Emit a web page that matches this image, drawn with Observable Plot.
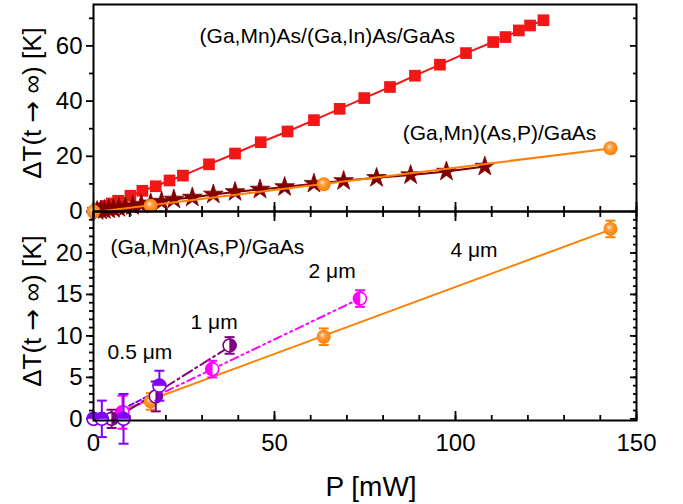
<!DOCTYPE html>
<html><head><meta charset="utf-8">
<script src="https://cdn.jsdelivr.net/npm/d3@7"></script>
<script src="https://cdn.jsdelivr.net/npm/@observablehq/plot@0.6"></script>
<style>
body{margin:0;background:#fff;}
#chart{width:683px;height:504px;position:relative;background:#fff;}
#chart svg{display:block;overflow:visible;}
</style></head><body><div id="chart"></div>
<script>
// ---------- data ----------
// top panel: (Ga,Mn)As/(Ga,In)As/GaAs  (red squares)
const sqP = [1.0, 2.2, 3.6, 5.0, 6.8, 10.2, 13.5, 17.2, 21.0, 24.7, 31.9, 39.1, 46.2, 53.6, 60.9, 68.0, 74.8, 81.9, 88.8, 95.7, 102.9, 110.4, 113.8, 117.5, 120.6, 124.3];
const sqT = [0.5, 1.2, 2.0, 2.9, 3.9, 5.7, 7.5, 9.15, 11.25, 13.0, 17.1, 21.0, 25.1, 29.0, 33.1, 37.2, 41.1, 45.1, 49.2, 53.2, 57.4, 61.4, 63.2, 65.6, 67.4, 69.3];
// top panel: stars
const stP = [1.0, 2.0, 3.0, 4.2, 5.5, 7.0, 8.8, 10.8, 13.2, 15.8, 18.8, 22.2, 27.3, 33.1, 39.1, 46.0, 52.8, 60.9, 69.1, 78.2, 87.6, 97.5, 108.1];
const stT = [0.2, 0.4, 0.6, 0.8, 1.0, 1.3, 1.6, 2.0, 2.5, 3.0, 3.6, 4.4, 5.1, 6.2, 7.1, 8.0, 8.9, 10.1, 11.1, 12.2, 13.2, 14.5, 16.3];
// 4 um (orange), shown in both panels
const p4 = [0, 15.8, 63.6, 142.8];
const t4 = [0, 2.1, 9.9, 22.9];
const e4 = [0.3, 1.0, 1.0, 1.0];
// 2 um (magenta)
const p2 = [8.0, 32.8, 73.6];
const t2 = [0.8, 6.0, 14.5];
const e2 = [2.0, 1.0, 1.0];
// 1 um (dark purple)
const p1 = [5.0, 17.2, 37.6];
const t1 = [0.0, 2.7, 8.85];
const e1 = [1.1, 1.8, 1.0];
// 0.5 um (violet)
const p05 = [0, 2.3, 8.3, 18.2];
const t05 = [0, 0, 0, 4.0];
const e05 = [0, 2.2, 3.0, 1.8];

// tick values
const xMajor = [0, 50, 100, 150];
const xMinor = d3.range(0, 151, 10);
const yTopMajor = [0, 20, 40, 60];
const yTopMinor = [10, 30, 50, 70];
const yBotMajor = [0, 5, 10, 15, 20];
const yBotMinor = d3.range(0, 25, 1);

// annotations
const annTopText = ["(Ga,Mn)As/(Ga,In)As/GaAs", "(Ga,Mn)(As,P)/GaAs"];
const annTopP = [29.3, 85.4];
const annTopT = [63.4, 28.3];
const annBotText = ["(Ga,Mn)(As,P)/GaAs", "4 μm", "2 μm", "1 μm", "0.5 μm"];
const annBotP = [4.7, 98.6, 59.4, 26.8, 3.9];
const annBotT = [20.7, 20.3, 17.8, 11.7, 8.0];

const yTitle = "ΔT(t → ∞) [K]";
const xTitle = "P [mW]";

// ---------- tables ----------
const tbl = (P, T, E) => P.map((p, i) => ({P: p, T: T[i], e: E ? E[i] : 0}));
const squares = tbl(sqP, sqT);
const stars = tbl(stP, stT);
const d4 = tbl(p4, t4, e4);
const d2 = tbl(p2, t2, e2);
const d1 = tbl(p1, t1, e1);
const d05 = tbl(p05, t05, e05);
const annTop = annTopText.map((t, i) => ({text: t, P: annTopP[i], T: annTopT[i]}));
const annBot = annBotText.map((t, i) => ({text: t, P: annBotP[i], T: annBotT[i]}));

// ---------- styles ----------
const C = {red: "#f21616", star: "#800000", orange: "#ff8000", magenta: "#ff00ff", purple: "#800080", violet: "#8000ff"};
const FONT = "'Liberation Sans', Arial, Helvetica, sans-serif";

const half = (a0, a1) => ({draw(ctx, size) { const r = Math.sqrt(size / Math.PI); ctx.moveTo(0, 0); ctx.arc(0, 0, r, a0, a1); ctx.closePath(); }});
const topHalf = half(Math.PI, 2 * Math.PI);
const rightHalf = half(-Math.PI / 2, Math.PI / 2);
const leftHalf = half(Math.PI / 2, 3 * Math.PI / 2);
const capSym = {draw(ctx, size) { const r = Math.sqrt(size / Math.PI); ctx.moveTo(-r, 0); ctx.lineTo(r, 0); }};

function errorBars(data, color) {
  const d = data.filter(v => v.e > 0);
  return [
    Plot.ruleX(d, {x: "P", y1: v => v.T - v.e, y2: v => v.T + v.e, stroke: color, strokeWidth: 2}),
    Plot.dot(d, {x: "P", y: v => v.T + v.e, symbol: capSym, r: 5, stroke: color, strokeWidth: 2, fill: "none"}),
    Plot.dot(d, {x: "P", y: v => v.T - v.e, symbol: capSym, r: 5, stroke: color, strokeWidth: 2, fill: "none"})
  ];
}
function halfDots(data, color, sym) {
  return [
    Plot.dot(data, {x: "P", y: "T", r: 6.5, fill: "white", stroke: color, strokeWidth: 1.6}),
    Plot.dot(data, {x: "P", y: "T", r: 6.5, symbol: sym, fill: color, stroke: color, strokeWidth: 0.5})
  ];
}
function frameAxes(yMajor, yMinor) {
  const sw = 1.8;
  return [
    Plot.axisY(yMajor, {anchor: "left", tickSize: 7, tickPadding: 4, strokeWidth: sw, fontSize: 24, label: null}),
    Plot.axisY(yMinor, {anchor: "left", tickSize: 4, strokeWidth: sw, tickFormat: () => "", label: null}),
    Plot.axisY(yMajor, {anchor: "right", tickSize: -7, strokeWidth: sw, tickFormat: () => "", label: null}),
    Plot.axisY(yMinor, {anchor: "right", tickSize: -4, strokeWidth: sw, tickFormat: () => "", label: null})
  ];
}

// ---------- top panel ----------
const topPanel = Plot.plot({
  width: 683, height: 211,
  marginTop: 4, marginBottom: 0, marginLeft: 93, marginRight: 47,
  x: {domain: [0, 150]},
  y: {domain: [0, 75]},
  style: {fontFamily: FONT, fontSize: "24px", color: "black", background: "transparent", overflow: "visible"},
  marks: [
    ...frameAxes(yTopMajor, yTopMinor),
    Plot.axisX(xMajor, {anchor: "bottom", tickSize: -9, strokeWidth: 1.8, tickFormat: () => "", label: null}),
    Plot.axisX(xMinor, {anchor: "bottom", tickSize: -5, strokeWidth: 1.8, tickFormat: () => "", label: null}),
    Plot.line(squares, {x: "P", y: "T", stroke: C.red, strokeWidth: 2}),
    Plot.dot(squares, {x: "P", y: "T", symbol: "square", r: 6.6, fill: C.red, stroke: "none"}),
    Plot.line(stars, {x: "P", y: "T", stroke: C.star, strokeWidth: 2}),
    Plot.dot(stars, {x: "P", y: "T", symbol: "star", r: 6.2, fill: C.star, stroke: C.star, strokeWidth: 0.8}),
    Plot.linearRegressionY(d4, {x: "P", y: "T", stroke: C.orange, strokeWidth: 2, ci: 0}),
    Plot.dot(d4, {x: "P", y: "T", r: 7, fill: "url(#ballTop)", stroke: "none"}),
    Plot.text(annTop, {x: "P", y: "T", text: "text", textAnchor: "start", lineAnchor: "middle", fontSize: 21, fill: "black"}),
    Plot.text([yTitle], {frameAnchor: "left", rotate: -90, dx: -61, dy: -5, textAnchor: "middle", lineAnchor: "middle", fontSize: 26, fill: "black"}),
    Plot.frame({stroke: "black", strokeWidth: 2})
  ]
});

// ---------- bottom panel ----------
const bottomPanel = Plot.plot({
  width: 683, height: 293,
  marginTop: 0, marginBottom: 84, marginLeft: 93, marginRight: 47,
  x: {domain: [0, 150]},
  y: {domain: [-0.2, 25]},
  style: {fontFamily: FONT, fontSize: "24px", color: "black", background: "transparent", overflow: "visible"},
  marks: [
    ...frameAxes(yBotMajor, yBotMinor),
    Plot.axisX(xMajor, {anchor: "top", tickSize: -9, strokeWidth: 1.8, tickFormat: () => "", label: null}),
    Plot.axisX(xMinor, {anchor: "top", tickSize: -5, strokeWidth: 1.8, tickFormat: () => "", label: null}),
    Plot.axisX(xMajor, {anchor: "bottom", tickSize: -9, strokeWidth: 1.8, tickFormat: () => "", label: null}),
    Plot.axisX(xMinor, {anchor: "bottom", tickSize: -5, strokeWidth: 1.8, tickFormat: () => "", label: null}),
    Plot.axisX(xMajor, {anchor: "bottom", tickSize: 0, tickPadding: 13, fontSize: 24, label: null}),
    Plot.linearRegressionY(d4, {x: "P", y: "T", stroke: C.orange, strokeWidth: 2, ci: 0, clip: true}),
    Plot.linearRegressionY(d2, {x: "P", y: "T", stroke: C.magenta, strokeWidth: 2, ci: 0, strokeDasharray: "8,4,2,4,2,4", clip: true}),
    Plot.linearRegressionY(d1, {x: "P", y: "T", stroke: C.purple, strokeWidth: 2, ci: 0, strokeDasharray: "11,4,2,4", clip: true}),
    Plot.linearRegressionY(d05, {x: "P", y: "T", stroke: C.violet, strokeWidth: 2, ci: 0, strokeDasharray: "5,3", clip: true}),
    ...errorBars(d4, C.orange),
    Plot.dot(d4, {x: "P", y: "T", r: 7, fill: "url(#ballBot)", stroke: "none"}),
    ...errorBars(d2, C.magenta),
    ...halfDots(d2, C.magenta, leftHalf),
    ...errorBars(d1, C.purple),
    ...halfDots(d1, C.purple, rightHalf),
    ...errorBars(d05, C.violet),
    ...halfDots(d05, C.violet, topHalf),
    Plot.text(annBot, {x: "P", y: "T", text: "text", textAnchor: "start", lineAnchor: "middle", fontSize: 21, fill: "black"}),
    Plot.text([yTitle], {frameAnchor: "left", rotate: -90, dx: -61, dy: -5, textAnchor: "middle", lineAnchor: "middle", fontSize: 26, fill: "black"}),
    Plot.text([xTitle], {frameAnchor: "bottom", dx: 6, dy: 67, textAnchor: "middle", lineAnchor: "middle", fontSize: 28, fill: "black"}),
    Plot.frame({stroke: "black", strokeWidth: 2})
  ]
});

function addGradient(svg, id) {
  const defs = document.createElementNS("http://www.w3.org/2000/svg", "defs");
  defs.innerHTML = `<radialGradient id="${id}" cx="0.5" cy="0.5" r="0.55" fx="0.38" fy="0.35"><stop offset="0" stop-color="#fff2e0"/><stop offset="0.35" stop-color="#ffa040"/><stop offset="1" stop-color="#f57a00"/></radialGradient>`;
  svg.insertBefore(defs, svg.firstChild);
}
// render the arrow of the y title with a font whose arrow is full width
function styleTitle(svg) {
  d3.select(svg).selectAll("text").filter(function () { return this.textContent === yTitle; }).each(function () {
    const el = d3.select(this);
    const parts = yTitle.split("→");
    el.text(null);
    el.append("tspan").text(parts[0]);
    el.append("tspan").attr("font-family", "'DejaVu Sans', sans-serif").text("→");
    el.append("tspan").text(parts[1]);
  });
}
addGradient(topPanel, "ballTop");
addGradient(bottomPanel, "ballBot");
styleTitle(topPanel);
styleTitle(bottomPanel);

const chart = document.getElementById("chart");
chart.appendChild(topPanel);
chart.appendChild(bottomPanel);
</script></body></html>
